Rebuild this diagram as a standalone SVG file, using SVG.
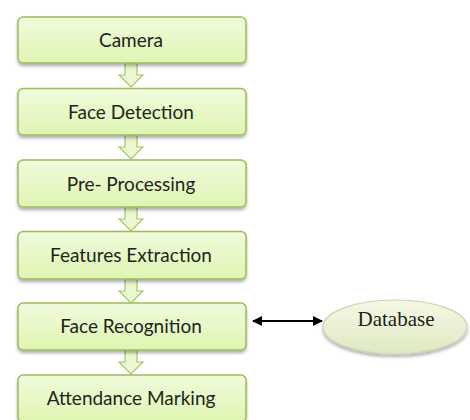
<svg xmlns="http://www.w3.org/2000/svg" width="470" height="420" viewBox="0 0 470 420">
<style>
.box{fill:url(#g);stroke:#9bbb59;stroke-width:1.5;filter:url(#sh)}
.lbl{font-family:Lato,"Open Sans","Liberation Sans",sans-serif;font-size:19px;fill:#1b261b;text-anchor:middle}
.blk{fill:#eaf7cf;stroke:#a5c46a;stroke-width:1.2}
.db{font-family:"Liberation Serif","Times New Roman",serif;font-size:21px;fill:#222;text-anchor:middle}
</style>
<defs>
<linearGradient id="g" x1="0" y1="0" x2="0" y2="1">
<stop offset="0" stop-color="#f1fbdc"/>
<stop offset="1" stop-color="#def5b2"/>
</linearGradient>
<linearGradient id="eg" x1="0" y1="0" x2="0" y2="1">
<stop offset="0" stop-color="#f5f8e6"/>
<stop offset="1" stop-color="#dfe9c0"/>
</linearGradient>
<filter id="sh" x="-10%" y="-20%" width="120%" height="160%">
<feDropShadow dx="0" dy="2.5" stdDeviation="1.5" flood-color="#000" flood-opacity="0.3"/>
</filter>
<marker id="ah" viewBox="0 0 10 10" refX="9" refY="5" markerWidth="5" markerHeight="5" orient="auto-start-reverse">
<path d="M0,0 L10,5 L0,10 z" fill="#000"/>
</marker>
</defs>
<g id="connectors">
<path class="blk" d="M125,63 h12 v12 h6 l-12,12 l-12,-12 h6 z"/>
<path class="blk" d="M125,135 h12 v12 h6 l-12,12 l-12,-12 h6 z"/>
<path class="blk" d="M125,207 h12 v12 h6 l-12,12 l-12,-12 h6 z"/>
<path class="blk" d="M125,279 h12 v12 h6 l-12,12 l-12,-12 h6 z"/>
<path class="blk" d="M125,350 h12 v12 h6 l-12,12 l-12,-12 h6 z"/>
<line x1="253" y1="321" x2="322" y2="321" stroke="#000" stroke-width="2" marker-start="url(#ah)" marker-end="url(#ah)"/>
</g>
<g id="camera"><rect class="box" x="18" y="17" width="228" height="46" rx="5"/><text class="lbl" x="131" y="47">Camera</text></g>
<g id="face-detection"><rect class="box" x="18" y="88.5" width="228" height="46.5" rx="5"/><text class="lbl" x="131" y="119">Face Detection</text></g>
<g id="pre-processing"><rect class="box" x="18" y="160" width="228" height="47" rx="5"/><text class="lbl" x="131" y="191">Pre- Processing</text></g>
<g id="features-extraction"><rect class="box" x="18" y="231.5" width="228" height="47.5" rx="5"/><text class="lbl" x="131" y="262">Features Extraction</text></g>
<g id="face-recognition"><rect class="box" x="18" y="303" width="228" height="47" rx="5"/><text class="lbl" x="131" y="333">Face Recognition</text></g>
<g id="attendance-marking"><rect class="box" x="18" y="375" width="228" height="47" rx="5"/><text class="lbl" x="131" y="405">Attendance Marking</text></g>
<g id="database"><ellipse cx="395" cy="327" rx="72" ry="27" fill="url(#eg)" stroke="#c9d4b0" stroke-width="1.2" filter="url(#sh)"/><text class="db" x="396" y="326">Database</text></g>
</svg>
